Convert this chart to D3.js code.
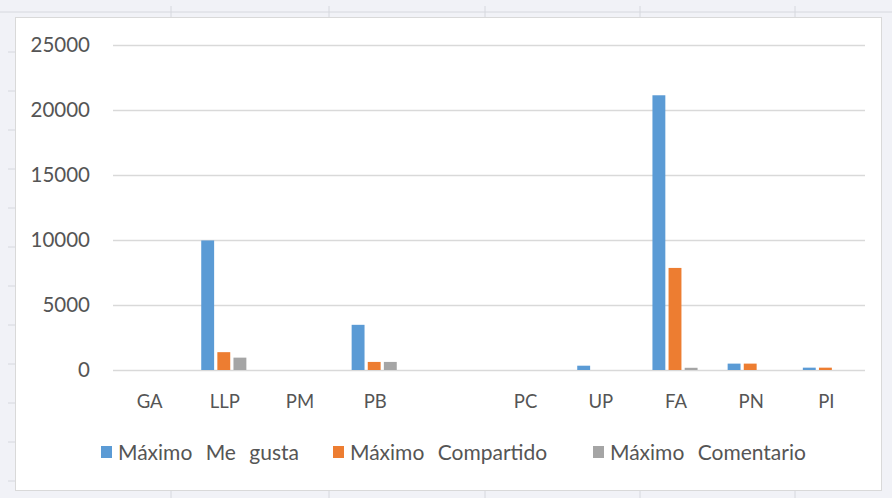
<!DOCTYPE html>
<html>
<head>
<meta charset="utf-8">
<script src="https://cdn.jsdelivr.net/npm/d3@7"></script>
<style>
  html, body { margin: 0; padding: 0; background: #f1f2f7; }
  svg { display: block; font-family: Lato, "Open Sans", sans-serif; }
</style>
</head>
<body>
<svg id="chart" width="892" height="498"></svg>
<script>
// Categories (one unlabeled slot between PB and PC)
const categories = ["GA", "LLP", "PM", "PB", " ", "PC", "UP", "FA", "PN", "PI"];
const seriesNames = ["Máximo Me gusta", "Máximo Compartido", "Máximo Comentario"];
const meGusta     = [0, 9950, 0, 3470, 0, 0, 330, 21100, 490, 180];
const compartido  = [0, 1370, 0,  620, 0, 0,   0,  7840, 490, 180];
const comentario  = [0,  950, 0,  620, 0, 0,   0,   170,   0,   0];
const yTicks = [0, 5000, 10000, 15000, 20000, 25000];
const colors = ["#5b9bd5", "#ed7d31", "#a5a5a5"];

const seriesValues = [meGusta, compartido, comentario];
const svg = d3.select("#chart");

// Sheet backdrop: row/column lines behind the chart object
const sheet = svg.append("g");
sheet.append("rect").attr("width", 892).attr("height", 498).attr("fill", "#f1f2f7");
sheet.append("line").attr("x1", 0).attr("x2", 892).attr("y1", 12).attr("y2", 12)
  .attr("stroke", "#d6d8de").attr("stroke-width", 1);
[171, 329, 485, 640, 795].forEach(x => {
  sheet.append("line").attr("x1", x).attr("x2", x).attr("y1", 6).attr("y2", 17)
    .attr("stroke", "#d6d8de");
  sheet.append("line").attr("x1", x).attr("x2", x).attr("y1", 491).attr("y2", 498)
    .attr("stroke", "#d6d8de");
});
[52, 91, 130, 169, 208, 247, 286, 325, 364, 403, 442, 481].forEach(y => {
  sheet.append("line").attr("x1", 8).attr("x2", 15).attr("y1", y).attr("y2", y)
    .attr("stroke", "#d6d8de");
});

// Chart area
svg.append("rect")
  .attr("x", 15.5).attr("y", 17.5).attr("width", 866).attr("height", 473)
  .attr("fill", "#ffffff").attr("stroke", "#d9d9d9");

const x = d3.scaleBand().domain(categories).range([111, 863])
  .paddingInner(0.4).paddingOuter(0.2);
const xs = d3.scaleBand().domain(d3.range(3)).range([0, x.bandwidth()]).paddingInner(0.2);
const y = d3.scaleLinear().domain([0, 25000]).range([370, 44.5]);

// Gridlines
svg.append("g").selectAll("line").data(yTicks).join("line")
  .attr("x1", 113).attr("x2", 865)
  .attr("y1", d => Math.round(y(d)) + 0.5).attr("y2", d => Math.round(y(d)) + 0.5)
  .attr("stroke", "#d9d9d9").attr("stroke-width", 1.3);

// Y axis labels
const yAxis = svg.append("g").attr("transform", "translate(90,0)")
  .call(d3.axisLeft(y).tickValues(yTicks).tickSize(0).tickPadding(0).tickFormat(d3.format("d")));
yAxis.select(".domain").remove();
yAxis.selectAll("text").attr("fill", "#555555").attr("font-size", 20.5)
  .attr("font-family", "Lato, sans-serif");

// X axis labels
const xAxis = svg.append("g").attr("transform", "translate(1,395)")
  .call(d3.axisBottom(x).tickSize(0).tickPadding(0));
xAxis.select(".domain").remove();
xAxis.selectAll("text").attr("fill", "#555555").attr("font-size", 18.5)
  .attr("font-family", "Lato, sans-serif");

// Bars
const groups = svg.append("g").selectAll("g").data(categories).join("g")
  .attr("transform", d => `translate(${x(d)},0)`);
groups.selectAll("rect")
  .data((d, i) => seriesValues.map((s, k) => ({ k, v: s[i] })))
  .join("rect")
  .attr("x", d => xs(d.k))
  .attr("width", xs.bandwidth())
  .attr("y", d => y(d.v))
  .attr("height", d => y(0) - y(d.v))
  .attr("fill", d => colors[d.k]);

// Legend
const legendX = [101, 333, 593];
const legend = svg.append("g").selectAll("g").data(seriesNames).join("g")
  .attr("transform", (d, i) => `translate(${legendX[i]},452)`);
legend.append("rect").attr("x", 0).attr("y", -6).attr("width", 11).attr("height", 12)
  .attr("fill", (d, i) => colors[i]);
legend.append("text").attr("x", 17).attr("y", 7.5)
  .attr("fill", "#555555").attr("font-size", 21).attr("word-spacing", 8)
  .attr("font-family", "Lato, sans-serif")
  .text(d => d);
</script>
</body>
</html>
